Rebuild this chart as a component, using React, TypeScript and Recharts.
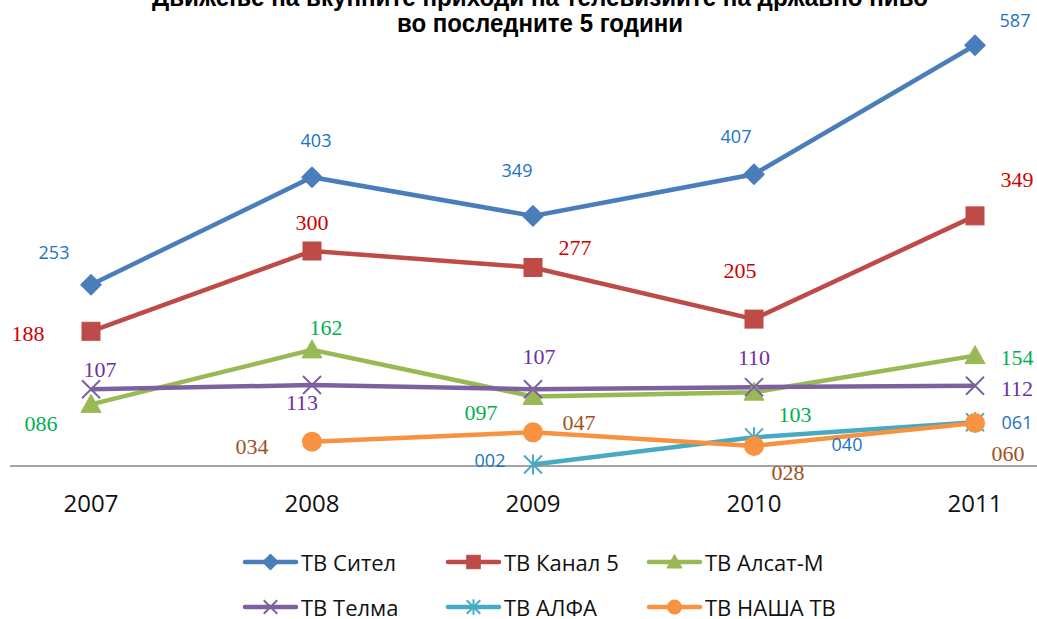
import React from "react";
import { LineChart, Line, XAxis, YAxis, LabelList } from "recharts";

const years = ["2007", "2008", "2009", "2010", "2011"];

const sitel = [253, 403, 349, 407, 587];
const kanal5 = [188, 300, 277, 205, 349];
const alsat = [86, 162, 97, 103, 154];
const telma = [107, 113, 107, 110, 112];
const alfa = [null, null, 2, 40, 61];
const nasha = [null, 34, 47, 28, 60];

const seriesNames = ["ТВ Сител", "ТВ Канал 5", "ТВ Алсат-М", "ТВ Телма", "ТВ АЛФА", "ТВ НАША ТВ"];

const titleLines = [
  "Движење на вкупните приходи на телевизиите на државно ниво",
  "во последните 5 години",
];

// label offsets from the point (dx, dy) - styling only
const sitelOff = [[-37, -33], [4, -37], [-16, -46], [-18, -38], [40, -25]];
const kanalOff = [[-63, 2], [0, -29], [42, -20], [-14, -49], [42, -36]];
const alsatOff = [[-50, 19], [14, -22], [-52, 16], [41, 22], [42, 2]];
const telmaOff = [[9, -20], [-10, 17], [6, -33], [0, -30], [42, 3]];
const alfaOff = [null, null, [-43, -5], [93, 7], [42, 0]];
const nashaOff = [null, [-60, 5], [46, -10], [34, 27], [33, 30]];

const data = years.map((year, i) => ({
  year,
  sitel: sitel[i],
  kanal5: kanal5[i],
  alsat: alsat[i],
  telma: telma[i],
  alfa: alfa[i],
  nasha: nasha[i],
}));

const SANS = "'Open Sans', 'Liberation Sans', sans-serif";
const SERIF = "'Liberation Serif', 'DejaVu Serif', serif";

type Shape = "diamond" | "square" | "triangle" | "x" | "star" | "circle";

function Marker({ shape, cx, cy, color, size = 1 }: { shape: Shape; cx: number; cy: number; color: string; size?: number }) {
  const s = size;
  if (shape === "diamond") {
    const r = 10 * s;
    return <polygon points={`${cx},${cy - r} ${cx + r},${cy} ${cx},${cy + r} ${cx - r},${cy}`} fill={color} stroke={color} strokeLinejoin="round" strokeWidth={1.5} />;
  }
  if (shape === "square") {
    const r = 9 * s;
    return <rect x={cx - r} y={cy - r} width={2 * r} height={2 * r} fill={color} stroke={color} />;
  }
  if (shape === "triangle") {
    const r = 10 * s;
    return <polygon points={`${cx},${cy - r} ${cx + r},${cy + r * 0.8} ${cx - r},${cy + r * 0.8}`} fill={color} stroke={color} />;
  }
  if (shape === "x") {
    const r = 9 * s;
    return (
      <g stroke={color} strokeWidth={2}>
        <line x1={cx - r} y1={cy - r} x2={cx + r} y2={cy + r} />
        <line x1={cx - r} y1={cy + r} x2={cx + r} y2={cy - r} />
      </g>
    );
  }
  if (shape === "star") {
    const r = 9 * s;
    return (
      <g stroke={color} strokeWidth={2}>
        <line x1={cx - r} y1={cy - r} x2={cx + r} y2={cy + r} />
        <line x1={cx - r} y1={cy + r} x2={cx + r} y2={cy - r} />
        <line x1={cx} y1={cy - r - 1} x2={cx} y2={cy + r + 1} />
      </g>
    );
  }
  return <circle cx={cx} cy={cy} r={10 * s} fill={color} />;
}

const makeDot = (shape: Shape, color: string) => (props: any) => {
  const { cx, cy, index, value } = props;
  if (value == null || cy == null || isNaN(cy)) return <g key={`d-${index}`} />;
  return (
    <g key={`d-${index}`}>
      <Marker shape={shape} cx={cx} cy={cy} color={color} />
    </g>
  );
};

const makeLabel = (offsets: (number[] | null)[], color: string, font: string, fontSize: number) => (props: any) => {
  const { x, y, value, index } = props;
  const off = offsets[index];
  if (value == null || !off) return null;
  return (
    <text
      key={`l-${index}`}
      x={x + off[0]}
      y={y + off[1]}
      textAnchor="middle"
      dominantBaseline="central"
      fill={color}
      fontFamily={font}
      fontSize={fontSize}
    >
      {String(value).padStart(3, "0")}
    </text>
  );
};

const series = [
  { key: "sitel", color: "#4A7EBB", shape: "diamond" as Shape, off: sitelOff, labelColor: "#1874C4", font: SANS, fs: 18 },
  { key: "kanal5", color: "#BE4B48", shape: "square" as Shape, off: kanalOff, labelColor: "#D00000", font: SERIF, fs: 22 },
  { key: "alsat", color: "#98B954", shape: "triangle" as Shape, off: alsatOff, labelColor: "#00B050", font: SERIF, fs: 22 },
  { key: "telma", color: "#7D60A0", shape: "x" as Shape, off: telmaOff, labelColor: "#7030A0", font: SERIF, fs: 22 },
  { key: "alfa", color: "#46AAC5", shape: "star" as Shape, off: alfaOff, labelColor: "#1874C4", font: SANS, fs: 18 },
  { key: "nasha", color: "#F69240", shape: "circle" as Shape, off: nashaOff, labelColor: "#A0521C", font: SERIF, fs: 22 },
];

const YearTick = (props: any) => {
  const { x, y, payload } = props;
  return (
    <text x={x} y={y + 38} textAnchor="middle" fill="#111" fontFamily={SANS} fontSize={24}>
      {payload.value}
    </text>
  );
};

const legendCols = [243, 446, 647];
const legendRows = [562, 607];

export default function App() {
  return (
    <div style={{ position: "absolute", left: 0, top: 0, width: 1037, height: 619, overflow: "hidden", background: "#fff" }}>
      <LineChart width={1037} height={619} data={data} margin={{ top: 36, right: 0, bottom: 0, left: 10 }}>
        <XAxis
          dataKey="year"
          height={153}
          padding={{ left: 81, right: 62 }}
          axisLine={{ stroke: "#868686", strokeWidth: 1.5 }}
          tickLine={false}
          tick={<YearTick />}
          interval={0}
        />
        <YAxis hide width={0} domain={[0, 600]} />
        {series.map((s) => (
          <Line
            key={s.key}
            dataKey={s.key}
            stroke={s.color}
            strokeWidth={4.5}
            dot={makeDot(s.shape, s.color)}
            activeDot={false}
            isAnimationActive={false}
            connectNulls={false}
          >
            <LabelList dataKey={s.key} content={makeLabel(s.off, s.labelColor, s.font, s.fs)} />
          </Line>
        ))}
      </LineChart>

      <svg width={1037} height={45} style={{ position: "absolute", left: 0, top: 0 }}>
        <text x={540} y={6} textAnchor="middle" fontFamily="'Liberation Sans Narrow', 'Liberation Sans', sans-serif" fontWeight="bold" fontSize={26} textLength={776} lengthAdjust="spacingAndGlyphs" fill="#000">
          {titleLines[0]}
        </text>
        <text x={540} y={32} textAnchor="middle" fontFamily="'Liberation Sans Narrow', 'Liberation Sans', sans-serif" fontWeight="bold" fontSize={26} textLength={286} lengthAdjust="spacingAndGlyphs" fill="#000">
          {titleLines[1]}
        </text>
      </svg>

      <svg width={1037} height={100} style={{ position: "absolute", left: 0, top: 530 }}>
        {series.map((s, i) => {
          const x = legendCols[i % 3];
          const y = legendRows[Math.floor(i / 3)] - 530;
          return (
            <g key={s.key}>
              <line x1={x + 2} y1={y} x2={x + 53} y2={y} stroke={s.color} strokeWidth={4.5} strokeLinecap="round" />
              <Marker shape={s.shape} cx={x + 27.5} cy={y} color={s.color} size={0.75} />
              <text x={x + 58} y={y} dominantBaseline="central" fontFamily={SANS} fontSize={22} fill="#111">
                {seriesNames[i]}
              </text>
            </g>
          );
        })}
      </svg>
    </div>
  );
}
